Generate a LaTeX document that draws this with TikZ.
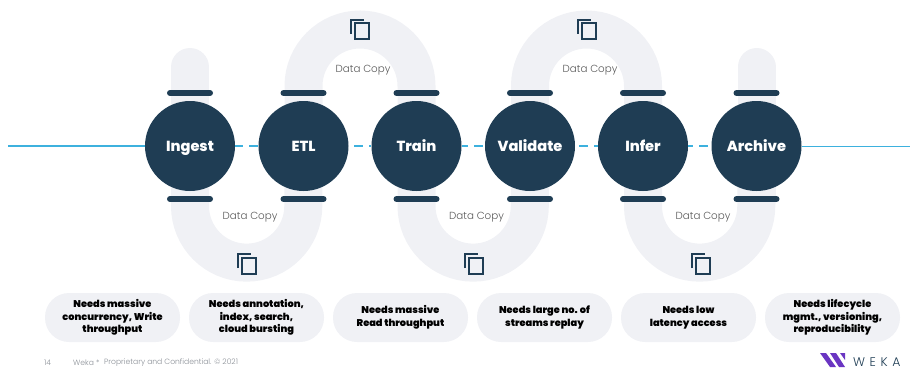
\documentclass[tikz,border=0pt]{standalone}
\usepackage{fontspec}
\setmainfont{Poppins}
\newfontfamily\lightfont{Poppins Light}
\newfontfamily\blackfont{Poppins Black}
\newfontfamily\heavyfont{Poppins ExtraBold}
\usepackage{tikz}
\usetikzlibrary{positioning}
\definecolor{wekanavy}{HTML}{1F3D54}
\definecolor{wekaband}{HTML}{F0F1F5}
\definecolor{wekablue}{HTML}{3DB1DE}
\definecolor{wekagrey}{HTML}{8A8F96}
\definecolor{wekapurple}{HTML}{6A35C2}
\tikzset{
  stage/.style={circle, fill=wekanavy, text=white, minimum size=90pt, inner sep=0pt, text height=13pt, text depth=3pt, font=\heavyfont\fontsize{14.6}{16}\selectfont},
  band/.style={draw=wekaband, line width=38pt, line cap=round},
  bar/.style={draw=wekanavy, line width=6pt, line cap=round},
  need/.style={fill=wekaband, rounded corners=24pt, minimum width=135pt, minimum height=49pt, inner sep=0pt, align=center, text=black, font=\blackfont\fontsize{9.8}{12.5}\selectfont},
  copylabel/.style={text=black!65, font=\lightfont\fontsize{10.3}{12}\selectfont},
  footer/.style={text=wekagrey, anchor=west, inner sep=0pt, font=\lightfont\fontsize{7.6}{9}\selectfont},
  link/.style={draw=wekablue, line width=2pt, dash pattern=on 9pt off 6pt},
  copyicon/.pic={
    \draw[wekanavy, line width=2pt] (-4,-5.5) rectangle (9.5,10.5);
    \draw[wekanavy, line width=2pt] (-8,5) -- (-8,-9) -- (5,-9);
  }
}
\begin{document}
\begin{tikzpicture}[x=1pt, y=-1pt]
  \useasboundingbox (0,0) rectangle (910,369);

  % grey bands behind the stages
  \draw[band] (190,67) -- (190,199);
  \draw[band] (756.5,67) -- (756.5,199);
  \foreach \xa/\xb in {190/303.5, 416.5/530, 643/756.5}
    \draw[band, line cap=butt] (\xa,146) -- (\xa,206) arc[start angle=180, end angle=0, radius=56.65] -- (\xb,146);
  \foreach \xa/\xb in {303.5/416.5, 530/643}
    \draw[band, line cap=butt] (\xa,146) -- (\xa,86) arc[start angle=180, end angle=360, radius=56.5] -- (\xb,146);

  \node[stage] (ingest) at (190,146) {Ingest};
  \node[stage] (etl) at (303.5,146) {ETL};
  \node[stage] (train) at (416.5,146) {Train};
  \node[stage] (validate) at (530,146) {Validate};
  \node[stage] (infer) at (643,146) {Infer};
  \node[stage] (archive) at (756.5,146) {Archive};

  \coordinate (linein) at (8,146);
  \coordinate (lineout) at (910,146);
  \draw[wekablue, line width=1.5pt] (linein) -- (ingest);
  \draw[wekablue, line width=1pt] (archive) -- (lineout);
  \draw[link, dash phase=1pt] (ingest) -- (etl);
  \draw[link, dash phase=9.5pt] (etl) -- (train);
  \draw[link, dash phase=2.5pt] (train) -- (validate);
  \draw[link, dash phase=11pt] (validate) -- (infer);
  \draw[link, dash phase=4pt] (infer) -- (archive);

  \foreach \x in {190,303.5,416.5,530,643,756.5} {
    \draw[bar] (\x-20,93) -- (\x+20,93);
    \draw[bar] (\x-20,199) -- (\x+20,199);
  }

  \node[copylabel] (copya) at (250,217.5) {Data Copy};
  \node[copylabel] (copyb) at (363,70.5) {Data Copy};
  \node[copylabel] (copyc) at (476.5,217.5) {Data Copy};
  \node[copylabel] (copyd) at (590,70.5) {Data Copy};
  \node[copylabel] (copye) at (703,217.5) {Data Copy};

  \pic at (246,263) {copyicon};
  \pic at (359,29) {copyicon};
  \pic at (473,263) {copyicon};
  \pic at (586,29) {copyicon};
  \pic at (700,263) {copyicon};

  \node[need] (needa) at (112.5,317.5) {Needs massive\\concurrency, Write\\throughput};
  \node[need] (needb) at (256.5,317.5) {Needs annotation,\\index, search,\\cloud bursting};
  \node[need] (needc) at (400.5,317.5) {Needs massive\\Read throughput};
  \node[need] (needd) at (544.5,317.5) {Needs large no. of\\streams replay};
  \node[need] (neede) at (688.5,317.5) {Needs low\\latency access};
  \node[need] (needf) at (832.5,317.5) {Needs lifecycle\\mgmt., versioning,\\reproducibility};

  \node[footer] (pageno) at (44,363) {14};
  \node[footer] (owner) at (73,363) {Weka *};
  \node[footer] (notice) at (104,363) {Proprietary and Confidential. © 2021};

  % logo
  \fill[wekapurple] (820,353) -- (826,353) -- (836,367) -- (830,367) -- cycle;
  \fill[wekapurple] (830,353) -- (836,353) -- (845,367) -- (839,367) -- cycle;
  \fill[wekapurple] (840,353) -- (845,353) -- (845,360) -- cycle;
  \node[text=wekanavy, anchor=west, inner sep=0pt, font=\lightfont\fontsize{12.5}{14}\selectfont] (logotext) at (853,362) {W\hspace{4.6pt}E\hspace{4.6pt}K\hspace{4.6pt}A};
\end{tikzpicture}
\end{document}
